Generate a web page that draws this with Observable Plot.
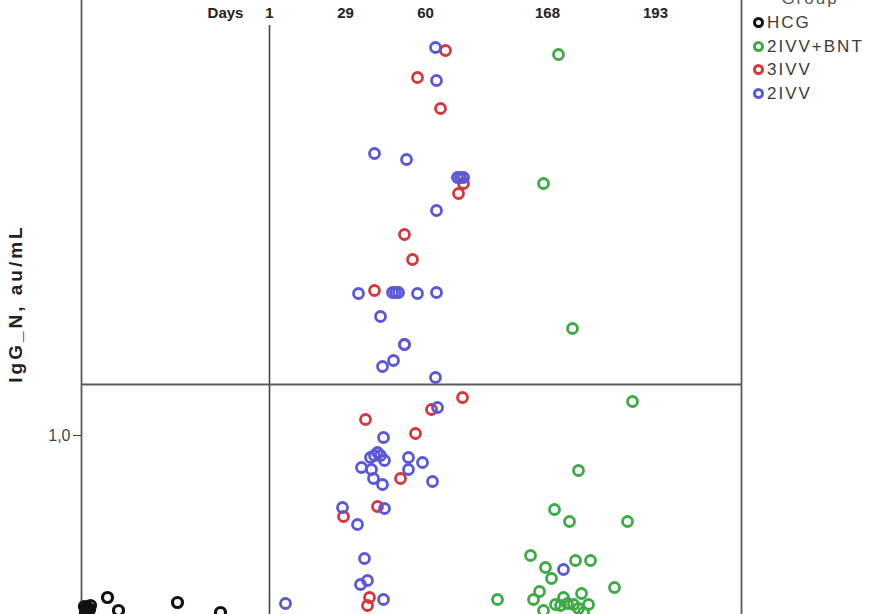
<!DOCTYPE html>
<html>
<head>
<meta charset="utf-8">
<script src="https://cdn.jsdelivr.net/npm/d3@7"></script>
<script src="https://cdn.jsdelivr.net/npm/@observablehq/plot@0.6"></script>
<style>
  html, body { margin: 0; padding: 0; background: #fff; }
  #wrap { position: relative; width: 870px; height: 614px; overflow: hidden; font-family: "Liberation Sans", Arial, sans-serif; }
  #legend { position: absolute; left: 750px; top: -13px; color: #3a3a3a; font-size: 17px; letter-spacing: 2px; }
  #legend .title { text-align: center; width: 120px; height: 24px; line-height: 24px; color: #555; }
  #legend .item { height: 23.6px; line-height: 23.6px; display: flex; align-items: center; white-space: nowrap; }
  #legend .sw { width: 5px; height: 5px; border-radius: 50%; border: 3px solid; margin-right: 3px; margin-left: 3px; box-sizing: content-box; }
  .ylab { letter-spacing: 3px; }
</style>
</head>
<body>
<div id="wrap"></div>
<script>
// ---- data (x = jittered position units, y = IgG_N value units) ----
const groups = ["HCG", "2IVV+BNT", "3IVV", "2IVV"];
const colors = ["#111111", "#3daa46", "#d6373c", "#5858d8"];

const hcgX = [0.3, 0.6, 0.8, 0.5, 0.9, 0.4, 2.6, 3.7, 9.6, 13.9];
const hcgY = [0.658, 0.656, 0.652, 0.650, 0.660, 0.646, 0.676, 0.650, 0.666, 0.646];

const bntX = [47.7, 46.2, 49.1, 55.1, 49.7, 47.3, 48.8, 54.6, 44.9, 46.4, 49.4, 50.9, 47.0, 53.3, 41.6, 45.8, 45.2, 48.2, 50.0, 47.4, 47.9, 48.6, 49.2, 50.7, 46.2, 49.7, 50.2];
const bntY = [1.762, 1.504, 1.214, 1.068, 0.930, 0.852, 0.828, 0.828, 0.760, 0.736, 0.750, 0.750, 0.714, 0.696, 0.672, 0.688, 0.672, 0.676, 0.684, 0.662, 0.660, 0.664, 0.662, 0.662, 0.650, 0.654, 0.646];

const ivv3X = [36.4, 33.6, 35.9, 38.2, 37.7, 32.3, 33.1, 29.3, 32.3, 38.1, 35.0, 28.4, 33.4, 31.9, 26.2, 29.6, 28.8, 28.6];
const ivv3Y = [1.770, 1.716, 1.654, 1.504, 1.484, 1.402, 1.352, 1.290, 1.182, 1.076, 1.052, 1.032, 1.004, 0.914, 0.838, 0.858, 0.676, 0.660];

const ivv2X = [35.4, 35.5, 29.3, 32.5, 37.6, 37.9, 38.2, 35.5, 27.7, 31.1, 31.4, 31.7, 33.6, 35.5, 29.9, 32.3, 31.2, 30.1, 35.4, 35.6, 30.2, 28.9, 29.3, 29.6, 29.9, 30.3, 28.0, 29.0, 32.7, 34.1, 32.7, 29.2, 30.1, 35.1, 26.1, 30.3, 27.6, 28.3, 48.2, 27.9, 28.6, 30.2, 20.4];
const ivv2Y = [1.776, 1.710, 1.564, 1.552, 1.516, 1.516, 1.516, 1.450, 1.284, 1.286, 1.286, 1.286, 1.284, 1.286, 1.238, 1.182, 1.150, 1.138, 1.116, 1.056, 0.996, 0.956, 0.960, 0.966, 0.960, 0.950, 0.936, 0.932, 0.956, 0.946, 0.932, 0.914, 0.902, 0.908, 0.856, 0.854, 0.822, 0.754, 0.732, 0.702, 0.710, 0.672, 0.664];

const dayLabels = ["Days", "1", "29", "60", "168", "193"];
const dayPos = [14.4, 18.8, 26.4, 34.4, 46.6, 57.4];
const yTicks = [1.0];
const referenceY = 1.102;
const xDomain = [0, 66];
const yDomain = [0.642, 1.87];

// ---- build tables ----
const series = [[hcgX, hcgY], [bntX, bntY], [ivv3X, ivv3Y], [ivv2X, ivv2Y]];
const rows = groups.map((g, i) => series[i][0].map((x, j) => ({group: g, x, y: series[i][1][j]})));
const dayTicks = dayLabels.map((t, i) => ({t, x: dayPos[i]}));
const drawOrder = [0, 1, 2, 3];

const chart = Plot.plot({
  width: 870,
  height: 614,
  marginLeft: 81,
  marginRight: 129,
  marginTop: 0,
  marginBottom: 0,
  style: {fontFamily: "'Liberation Sans', Arial, sans-serif", fontSize: "16px", color: "#333", background: "#fff"},
  x: {domain: xDomain, axis: null},
  y: {domain: yDomain, axis: null},
  marks: [
    Plot.ruleX(xDomain, {stroke: "#5a5a5a", strokeWidth: 1.8}),
    Plot.ruleX([dayPos[1]], {stroke: "#444", strokeWidth: 1.6, insetTop: 25}),
    Plot.ruleY([referenceY], {stroke: "#5a5a5a", strokeWidth: 1.8}),
    Plot.axisY({ticks: yTicks, tickFormat: d => d.toFixed(1).replace(".", ","), tickSize: 8, tickPadding: 3, stroke: "#444", fill: "#444", label: null, fontSize: 16}),
    Plot.text(["IgG_N, au/mL"], {frameAnchor: "left", textAnchor: "middle", rotate: -90, dx: -66, dy: -4, fontWeight: "bold", fontSize: 19, fill: "#222", className: "ylab"}),
    Plot.text(dayTicks, {x: "x", text: "t", frameAnchor: "top", lineAnchor: "middle", dy: 13, fontWeight: "bold", fontSize: 15, fill: "#222"}),
    ...drawOrder.map(i => Plot.dot(rows[i], {x: "x", y: "y", r: 5, stroke: colors[i], strokeWidth: i === 0 ? 3.2 : 2.8, fill: "none"}))
  ]
});

const wrap = document.getElementById("wrap");
wrap.appendChild(chart);

// legend
const legend = document.createElement("div");
legend.id = "legend";
const title = document.createElement("div");
title.className = "title";
title.textContent = "Group";
legend.appendChild(title);
groups.forEach((g, i) => {
  const item = document.createElement("div");
  item.className = "item";
  const sw = document.createElement("span");
  sw.className = "sw";
  sw.style.borderColor = colors[i];
  item.appendChild(sw);
  const t = document.createElement("span");
  t.textContent = g;
  item.appendChild(t);
  legend.appendChild(item);
});
wrap.appendChild(legend);
</script>
</body>
</html>
